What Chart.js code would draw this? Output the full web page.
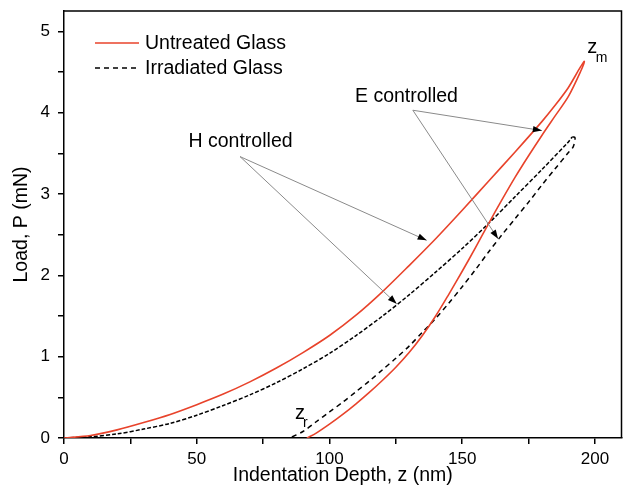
<!DOCTYPE html>
<html>
<head>
<meta charset="utf-8">
<script src="https://cdn.jsdelivr.net/npm/chart.js@4"></script>
<style>
  body { margin: 0; background: #fff; }
</style>
</head>
<body>
<canvas id="myChart" width="623" height="487"></canvas>
<script>
// untreated glass: loading branch then unloading branch (nm, mN)
const untreatedDepth = [0, 10, 20, 30, 40, 50, 60, 70, 80, 90, 100, 110, 120, 130, 140, 150, 160, 170, 180, 185, 190, 194.5, 196,
    194.5, 190, 185, 180, 175, 170, 165, 160, 155, 150, 145, 140, 135, 130, 125, 120, 115, 110, 105, 100, 95, 91.5]
const untreatedLoad = [0, 0.03, 0.10, 0.19, 0.29, 0.41, 0.54, 0.69, 0.86, 1.05, 1.26, 1.51, 1.80, 2.12, 2.45, 2.80, 3.16, 3.52, 3.89, 4.09, 4.31, 4.56, 4.63,
    4.50, 4.20, 3.96, 3.72, 3.47, 3.21, 2.93, 2.64, 2.34, 2.05, 1.77, 1.50, 1.26, 1.05, 0.87, 0.71, 0.56, 0.42, 0.29, 0.17, 0.06, 0]

// irradiated glass
const irradiatedDepth = [0, 10, 20, 30, 40, 50, 60, 70, 80, 90, 100, 110, 120, 130, 140, 150, 160, 170, 180, 190, 191.5, 192.5,
    191.8, 190, 185, 180, 175, 170, 165, 160, 155, 150, 145, 140, 135, 130, 125, 120, 115, 110, 105, 100, 95, 90, 85]
const irradiatedLoad = [0, 0.015, 0.05, 0.11, 0.18, 0.28, 0.40, 0.53, 0.68, 0.85, 1.04, 1.26, 1.50, 1.76, 2.04, 2.33, 2.64, 2.97, 3.30, 3.64, 3.70, 3.69,
    3.58, 3.51, 3.31, 3.11, 2.90, 2.70, 2.50, 2.29, 2.07, 1.86, 1.66, 1.47, 1.30, 1.13, 0.98, 0.84, 0.70, 0.57, 0.44, 0.32, 0.20, 0.08, 0]

const seriesNames = ['Untreated Glass', 'Irradiated Glass']
const xTicks = [0, 50, 100, 150, 200]
const yTicks = [0, 1, 2, 3, 4, 5]

// annotation arrows: label position, common start, arrow tips (data units)
const hArrows = { text: 'H controlled', at: [66.5, 3.65], from: [66.3, 3.46], tips: [[136.6, 2.43], [125.3, 1.65]] }
const eArrows = { text: 'E controlled', at: [129, 4.2], from: [131.4, 4.03], tips: [[180, 3.78], [163.5, 2.45]] }

const RED = '#e8432b'
const FONT = 'Liberation Sans, Arial, sans-serif'

const toPoints = (xs, ys) => xs.map((x, i) => ({ x: x, y: ys[i] }))
const irradiatedPeak = irradiatedLoad.indexOf(Math.max(...irradiatedLoad))

function arrowHead(ctx, x0, y0, x1, y1) {
    const a = Math.atan2(y1 - y0, x1 - x0)
    const len = 9, w = 3.2
    ctx.beginPath()
    ctx.moveTo(x1, y1)
    ctx.lineTo(x1 - len * Math.cos(a) + w * Math.sin(a), y1 - len * Math.sin(a) - w * Math.cos(a))
    ctx.lineTo(x1 - len * Math.cos(a) - w * Math.sin(a), y1 - len * Math.sin(a) + w * Math.cos(a))
    ctx.closePath()
    ctx.fill()
}

const extras = {
    id: 'extras',
    afterDraw(chart) {
        const ctx = chart.ctx
        const xs = chart.scales.x, ys = chart.scales.y
        const area = chart.chartArea
        ctx.save()

        // frame on top and right
        ctx.strokeStyle = '#000'
        ctx.lineWidth = 1.5
        ctx.beginPath()
        ctx.moveTo(area.left, area.top)
        ctx.lineTo(area.right, area.top)
        ctx.lineTo(area.right, area.bottom)
        ctx.stroke()

        // legend
        ctx.font = '19.5px ' + FONT
        ctx.textBaseline = 'middle'
        ctx.fillStyle = '#000'
        ctx.lineWidth = 1.5
        ctx.strokeStyle = RED
        ctx.beginPath(); ctx.moveTo(95, 43); ctx.lineTo(139, 43); ctx.stroke()
        ctx.fillText(seriesNames[0], 145, 44)
        ctx.strokeStyle = '#000'
        ctx.setLineDash([5, 4])
        ctx.beginPath(); ctx.moveTo(95, 68); ctx.lineTo(139, 68); ctx.stroke()
        ctx.setLineDash([])
        ctx.fillText(seriesNames[1], 145, 69)

        // annotations
        ;[hArrows, eArrows].forEach(a => {
            ctx.textAlign = 'center'
            ctx.fillStyle = '#000'
            ctx.fillText(a.text, xs.getPixelForValue(a.at[0]), ys.getPixelForValue(a.at[1]))
            const fx = xs.getPixelForValue(a.from[0]), fy = ys.getPixelForValue(a.from[1])
            a.tips.forEach(t => {
                const tx = xs.getPixelForValue(t[0]), ty = ys.getPixelForValue(t[1])
                ctx.strokeStyle = '#8a8a8a'
                ctx.lineWidth = 1
                ctx.beginPath(); ctx.moveTo(fx, fy); ctx.lineTo(tx, ty); ctx.stroke()
                ctx.fillStyle = '#000'
                arrowHead(ctx, fx, fy, tx, ty)
            })
        })

        // z_m and z_r markers
        ctx.textAlign = 'center'
        ctx.fillStyle = '#000'
        ctx.font = '20px ' + FONT
        ctx.fillText('z', xs.getPixelForValue(199), ys.getPixelForValue(4.8))
        ctx.fillText('z', xs.getPixelForValue(88.9), ys.getPixelForValue(0.3))
        ctx.font = '14px ' + FONT
        ctx.fillText('m', xs.getPixelForValue(202.5), ys.getPixelForValue(4.67))
        ctx.fillText('r', xs.getPixelForValue(90.9), ys.getPixelForValue(0.18))
        ctx.restore()
    }
}

const ctx = document.getElementById('myChart')
new Chart(ctx, {
    type: 'scatter',
    data: {
        datasets: [{
            label: seriesNames[0],
            data: toPoints(untreatedDepth, untreatedLoad),
            showLine: true,
            borderColor: RED,
            borderWidth: 1.6,
            pointRadius: 0,
            tension: 0.3
        }, {
            label: seriesNames[1],
            data: toPoints(irradiatedDepth, irradiatedLoad),
            showLine: true,
            borderColor: '#000',
            borderWidth: 1.5,
            borderDash: [5, 4],
            // loading trace is noisier, so its dashes read shorter
            segment: { borderDash: c => c.p0DataIndex < irradiatedPeak ? [4, 2] : [5, 4] },
            pointRadius: 0,
            tension: 0.3
        }]
    },
    options: {
        responsive: false,
        animation: false,
        layout: { padding: { top: 11, right: 1.5, left: 0, bottom: 0 } },
        plugins: { legend: { display: false }, tooltip: { enabled: false } },
        scales: {
            x: {
                type: 'linear',
                min: 0,
                max: 210,
                afterFit: s => { s.height = 49; s.paddingLeft = 0; s.paddingRight = 0 },
                border: { color: '#000', width: 1.5 },
                grid: { drawOnChartArea: false, tickLength: 6, color: '#000', lineWidth: 1.5 },
                ticks: {
                    stepSize: 25,
                    includeBounds: false,
                    autoSkip: false,
                    maxRotation: 0,
                    padding: 5,
                    color: '#000',
                    font: { family: FONT, size: 17 },
                    callback: v => xTicks.includes(v) ? v : ''
                },
                title: {
                    display: true,
                    text: 'Indentation Depth, z (nm)',
                    color: '#000',
                    font: { family: FONT, size: 19.5 },
                    padding: { top: 0, bottom: 0 }
                }
            },
            y: {
                min: 0,
                max: 5.25,
                afterFit: s => { s.width = 64; s.paddingTop = 0; s.paddingBottom = 0 },
                border: { color: '#000', width: 1.5 },
                grid: { drawOnChartArea: false, tickLength: 6, color: '#000', lineWidth: 1.5 },
                ticks: {
                    stepSize: 0.5,
                    includeBounds: false,
                    autoSkip: false,
                    padding: 8,
                    color: '#000',
                    font: { family: FONT, size: 17 },
                    callback: v => yTicks.includes(v) ? v : ''
                },
                title: {
                    display: true,
                    text: 'Load, P (mN)',
                    color: '#000',
                    font: { family: FONT, size: 19.5 },
                    padding: { top: 10, bottom: 6 }
                }
            }
        }
    },
    plugins: [extras]
});
</script>
</body>
</html>
